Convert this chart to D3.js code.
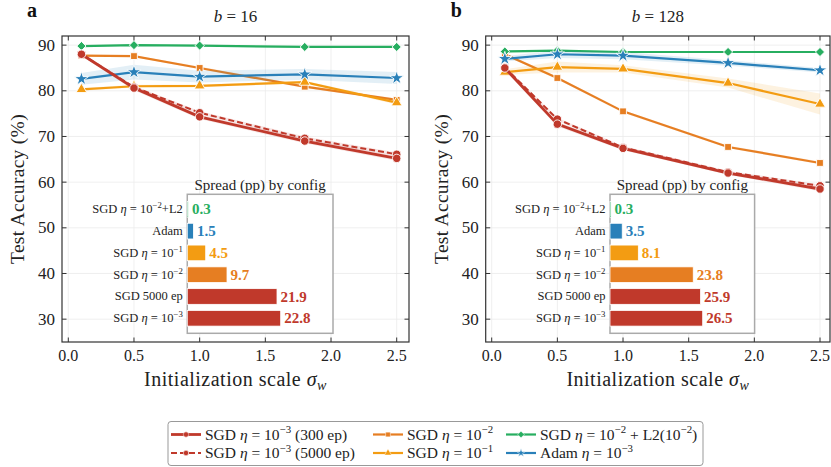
<!DOCTYPE html>
<html>
<head>
<meta charset="utf-8">
<script src="https://cdn.jsdelivr.net/npm/d3@7"></script>
<style>
  body { margin: 0; background: #fff; }
  svg { display: block; font-family: "Liberation Serif", "Times New Roman", serif; }
</style>
</head>
<body>
<svg id="chart" width="831" height="467"></svg>
<script>
// init scales sigma_w
const xVals = [0.1, 0.5, 1.0, 1.8, 2.5];

// b = 16 : mean test accuracy (%)
const b16Sgd3 = [88.0, 80.6, 74.3, 69.0, 65.2];
const b16Sgd3Long = [88.0, 80.8, 75.2, 69.6, 66.1];
const b16Sgd2 = [87.7, 87.6, 85.0, 80.9, 78.0];
const b16Sgd1 = [80.3, 81.0, 81.1, 81.9, 77.4];
const b16L2 = [89.8, 90.0, 89.9, 89.6, 89.6];
const b16Adam = [82.6, 84.1, 83.1, 83.6, 82.8];
// b = 16 : std over seeds
const b16Sgd3Sd = [0.4, 0.5, 0.5, 0.5, 0.5];
const b16Sgd3LongSd = [0.3, 0.3, 0.3, 0.4, 0.4];
const b16Sgd2Sd = [0.2, 0.2, 0.3, 0.3, 0.3];
const b16Sgd1Sd = [0.3, 0.3, 0.3, 0.3, 0.4];
const b16L2Sd = [0.2, 0.2, 0.2, 0.2, 0.2];
const b16AdamSd = [1.3, 1.6, 1.3, 1.2, 1.3];

// b = 128
const b128Sgd3 = [85.0, 72.7, 67.4, 62.0, 58.5];
const b128Sgd3Long = [85.1, 73.8, 67.6, 62.2, 59.2];
const b128Sgd2 = [88.0, 82.8, 75.5, 67.7, 64.2];
const b128Sgd1 = [84.1, 85.2, 84.8, 81.7, 77.1];
const b128L2 = [88.6, 88.8, 88.5, 88.5, 88.5];
const b128Adam = [87.0, 88.0, 87.7, 86.1, 84.5];
const b128Sgd3Sd = [0.5, 0.5, 0.4, 0.4, 0.5];
const b128Sgd3LongSd = [0.3, 0.3, 0.3, 0.3, 0.3];
const b128Sgd2Sd = [0.3, 0.3, 0.3, 0.3, 0.3];
const b128Sgd1Sd = [0.6, 1.2, 0.8, 1.0, 2.3];
const b128L2Sd = [0.2, 0.2, 0.2, 0.2, 0.2];
const b128AdamSd = [0.6, 0.8, 0.8, 0.6, 0.5];

// inset: spread (max - min) per config, top to bottom
const spreadLabels = [
  [["SGD "], ["η", "i"], [" = 10"], ["−2", "sup"], ["+L2"]],
  [["Adam"]],
  [["SGD "], ["η", "i"], [" = 10"], ["−1", "sup"]],
  [["SGD "], ["η", "i"], [" = 10"], ["−2", "sup"]],
  [["SGD 5000 ep"]],
  [["SGD "], ["η", "i"], [" = 10"], ["−3", "sup"]]
];
const spreadColors = ["#27ae60", "#2980b9", "#f39c12", "#e67e22", "#c0392b", "#c0392b"];
const spread16 = [0.3, 1.5, 4.5, 9.7, 21.9, 22.8];
const spread128 = [0.3, 3.5, 8.1, 23.8, 25.9, 26.5];

const yTicks = [30, 40, 50, 60, 70, 80, 90];
const xTicks = [0.0, 0.5, 1.0, 1.5, 2.0, 2.5];

// series styling (legend order)
const series = [
  {key: "sgd3", color: "#c0392b", marker: "circle", dash: null, lw: 2.8,
   label: [["SGD "], ["η", "i"], [" = 10"], ["−3", "sup"], [" (300 ep)"]]},
  {key: "sgd3long", color: "#c0392b", marker: "circle", dash: "6,3", lw: 2.0,
   label: [["SGD "], ["η", "i"], [" = 10"], ["−3", "sup"], [" (5000 ep)"]]},
  {key: "sgd2", color: "#e67e22", marker: "square", dash: null, lw: 2.2,
   label: [["SGD "], ["η", "i"], [" = 10"], ["−2", "sup"]]},
  {key: "sgd1", color: "#f39c12", marker: "triangle", dash: null, lw: 2.2,
   label: [["SGD "], ["η", "i"], [" = 10"], ["−1", "sup"]]},
  {key: "l2", color: "#27ae60", marker: "diamond", dash: null, lw: 2.2,
   label: [["SGD "], ["η", "i"], [" = 10"], ["−2", "sup"], [" + L2(10"], ["−2", "sup"], [")"]]},
  {key: "adam", color: "#2980b9", marker: "star", dash: null, lw: 2.2,
   label: [["Adam "], ["η", "i"], [" = 10"], ["−3", "sup"]]}
];
// draw order: red lines on top
const drawOrder = ["sgd2", "sgd1", "l2", "adam", "sgd3long", "sgd3"];

const panels = [
  {letter: "a", b: "16", x0: 68.3, x25: 396.7, left: 62, right: 409, spread: spread16,
   mean: {sgd3: b16Sgd3, sgd3long: b16Sgd3Long, sgd2: b16Sgd2, sgd1: b16Sgd1, l2: b16L2, adam: b16Adam},
   sd: {sgd3: b16Sgd3Sd, sgd3long: b16Sgd3LongSd, sgd2: b16Sgd2Sd, sgd1: b16Sgd1Sd, l2: b16L2Sd, adam: b16AdamSd}},
  {letter: "b", b: "128", x0: 491.7, x25: 820, left: 485.7, right: 830, spread: spread128,
   mean: {sgd3: b128Sgd3, sgd3long: b128Sgd3Long, sgd2: b128Sgd2, sgd1: b128Sgd1, l2: b128L2, adam: b128Adam},
   sd: {sgd3: b128Sgd3Sd, sgd3long: b128Sgd3LongSd, sgd2: b128Sgd2Sd, sgd1: b128Sgd1Sd, l2: b128L2Sd, adam: b128AdamSd}}
];

const plotTop = 36, plotBottom = 342;
const svg = d3.select("#chart");

// text with italic / superscript / subscript pieces
function rich(sel, parts, fs) {
  let shift = 0;
  parts.forEach(p => {
    const s = p[0], k = p[1] || "";
    const ts = sel.append("tspan").text(s);
    let target = 0, size = fs;
    if (k.startsWith("sup")) { target = -0.4 * fs; size = 0.7 * fs; }
    if (k.startsWith("sub")) { target = 0.22 * fs; size = 0.7 * fs; }
    if (k.includes("i")) ts.attr("font-style", "italic");
    ts.attr("font-size", size);
    if (target - shift !== 0) ts.attr("dy", target - shift);
    shift = target;
  });
  return sel;
}

function symbolType(kind) {
  if (kind === "circle") return d3.symbolCircle;
  if (kind === "triangle") return d3.symbolTriangle;
  if (kind === "star") return d3.symbolStar;
  return d3.symbolSquare; // square + diamond (rotated)
}
const markerSize = {circle: 56, square: 46, triangle: 50, diamond: 42, star: 62};
function symbolRot(kind) { return kind === "diamond" ? " rotate(45)" : ""; }

panels.forEach(p => {
  const g = svg.append("g");
  const x = d3.scaleLinear().domain([0, 2.5]).range([p.x0, p.x25]);
  const y = d3.scaleLinear().domain([25, 92]).range([plotBottom, plotTop]);

  // grid
  g.append("g").selectAll("line").data(yTicks).join("line")
    .attr("x1", p.left).attr("x2", p.right)
    .attr("y1", d => y(d)).attr("y2", d => y(d))
    .attr("stroke", "#ebebeb").attr("stroke-width", 0.8);
  g.append("g").selectAll("line").data(xTicks).join("line")
    .attr("x1", d => x(d)).attr("x2", d => x(d))
    .attr("y1", plotTop).attr("y2", plotBottom)
    .attr("stroke", "#ebebeb").attr("stroke-width", 0.8);

  // bands, lines, markers
  drawOrder.forEach(key => {
    const s = series.find(d => d.key === key);
    const m = p.mean[s.key], sd = p.sd[s.key];
    const pts = xVals.map((v, i) => ({x: v, m: m[i], sd: sd[i]}));
    g.append("path").datum(pts)
      .attr("d", d3.area().x(d => x(d.x)).y0(d => y(d.m - d.sd)).y1(d => y(d.m + d.sd)))
      .attr("fill", s.color).attr("fill-opacity", 0.13);
    g.append("path").datum(pts)
      .attr("d", d3.line().x(d => x(d.x)).y(d => y(d.m)))
      .attr("fill", "none").attr("stroke", s.color).attr("stroke-width", s.lw)
      .attr("stroke-dasharray", s.dash);
    g.append("g").selectAll("path").data(pts).join("path")
      .attr("d", d3.symbol(symbolType(s.marker), markerSize[s.marker])())
      .attr("transform", d => `translate(${x(d.x)},${y(d.m)})${symbolRot(s.marker)}`)
      .attr("fill", s.color).attr("stroke", "#fff").attr("stroke-width", 0.9);
  });

  // spines + ticks (inward, all sides)
  g.append("rect").attr("x", p.left).attr("y", plotTop)
    .attr("width", p.right - p.left).attr("height", plotBottom - plotTop)
    .attr("fill", "none").attr("stroke", "#333").attr("stroke-width", 1.2);
  const tl = 4.5;
  xTicks.forEach(t => {
    g.append("line").attr("x1", x(t)).attr("x2", x(t)).attr("y1", plotBottom).attr("y2", plotBottom - tl).attr("stroke", "#333");
    g.append("line").attr("x1", x(t)).attr("x2", x(t)).attr("y1", plotTop).attr("y2", plotTop + tl).attr("stroke", "#333");
    g.append("text").attr("x", x(t)).attr("y", 360.5).attr("text-anchor", "middle")
      .attr("font-size", 16).attr("fill", "#222").text(t.toFixed(1));
  });
  yTicks.forEach(t => {
    g.append("line").attr("x1", p.left).attr("x2", p.left + tl).attr("y1", y(t)).attr("y2", y(t)).attr("stroke", "#333");
    g.append("line").attr("x1", p.right).attr("x2", p.right - tl).attr("y1", y(t)).attr("y2", y(t)).attr("stroke", "#333");
    g.append("text").attr("x", p.left - 7).attr("y", y(t)).attr("dy", "0.33em")
      .attr("text-anchor", "end").attr("font-size", 17).attr("fill", "#222").text(t);
  });

  // labels
  const cx = (p.left + p.right) / 2;
  rich(g.append("text").attr("x", cx).attr("y", 386).attr("text-anchor", "middle")
    .attr("letter-spacing", 0.5).attr("fill", "#222"),
    [["Initialization scale "], ["σ", "i"], ["w", "subi"]], 20);
  g.append("text").attr("transform", `translate(${p.left - 44},${(plotTop + plotBottom) / 2}) rotate(-90)`)
    .attr("text-anchor", "middle").attr("dy", "0.33em").attr("font-size", 19.5)
    .attr("letter-spacing", 0.3).attr("fill", "#222")
    .text("Test Accuracy (%)");
  rich(g.append("text").attr("x", cx).attr("y", 22).attr("text-anchor", "middle").attr("fill", "#222"),
    [["b", "i"], [" = " + p.b]], 17);
  g.append("text").attr("x", p.left - 35).attr("y", 17).attr("font-size", 20)
    .attr("font-weight", "bold").attr("fill", "#111").text(p.letter);

  // inset bar chart
  const W = p.right - p.left;
  const ix = p.left + 0.361 * W, iw = 0.42 * W, iy = 194.3, ih = 139;
  const ig = g.append("g").attr("transform", `translate(${ix},${iy})`);
  ig.append("rect").attr("width", iw).attr("height", ih)
    .attr("fill", "#fff").attr("stroke", "#aaa").attr("stroke-width", 1.5);
  const bx = d3.scaleLinear().domain([0, d3.max(p.spread) * 1.56]).range([0, iw]);
  const by = d3.scalePoint().domain(d3.range(p.spread.length)).range([0, ih]).padding(0.69);
  const bh = 0.72 * by.step();
  ig.selectAll("rect.bar").data(p.spread).join("rect").attr("class", "bar")
    .attr("x", 0).attr("y", (d, i) => by(i) - bh / 2)
    .attr("width", d => bx(d)).attr("height", bh)
    .attr("fill", (d, i) => spreadColors[i]).attr("stroke", "#fff").attr("stroke-width", 0.8);
  ig.selectAll("text.val").data(p.spread).join("text").attr("class", "val")
    .attr("x", d => bx(d) + 3.5).attr("y", (d, i) => by(i)).attr("dy", "0.34em")
    .attr("font-size", 15).attr("font-weight", "bold")
    .attr("fill", (d, i) => spreadColors[i]).text(d => d.toFixed(1));
  spreadLabels.forEach((lab, i) => {
    rich(ig.append("text").attr("x", -4.5).attr("y", by(i) + 4).attr("text-anchor", "end").attr("fill", "#222"),
      lab, 12.5);
  });
  ig.append("text").attr("x", iw / 2).attr("y", -4.5).attr("text-anchor", "middle")
    .attr("font-size", 15).attr("fill", "#222").text("Spread (pp) by config");
});

// legend
const lg = svg.append("g");
lg.append("rect").attr("x", 168).attr("y", 421.5).attr("width", 535).attr("height", 44)
  .attr("rx", 3).attr("fill", "#fff").attr("stroke", "#999").attr("stroke-width", 1);
const colX = [171, 373, 506];
const rowY = [434.5, 453];
series.forEach((s, i) => {
  const cx = colX[Math.floor(i / 2)], cy = rowY[i % 2];
  lg.append("line").attr("x1", cx).attr("x2", cx + 30).attr("y1", cy).attr("y2", cy)
    .attr("stroke", s.color).attr("stroke-width", s.lw).attr("stroke-dasharray", s.dash);
  lg.append("path").attr("d", d3.symbol(symbolType(s.marker), 22)())
    .attr("transform", `translate(${cx + 15},${cy})${symbolRot(s.marker)}`)
    .attr("fill", s.color).attr("stroke", "#fff").attr("stroke-width", 0.5);
  rich(lg.append("text").attr("x", cx + 34).attr("y", cy + 5).attr("fill", "#222"), s.label, 15.5);
});
</script>
</body>
</html>
